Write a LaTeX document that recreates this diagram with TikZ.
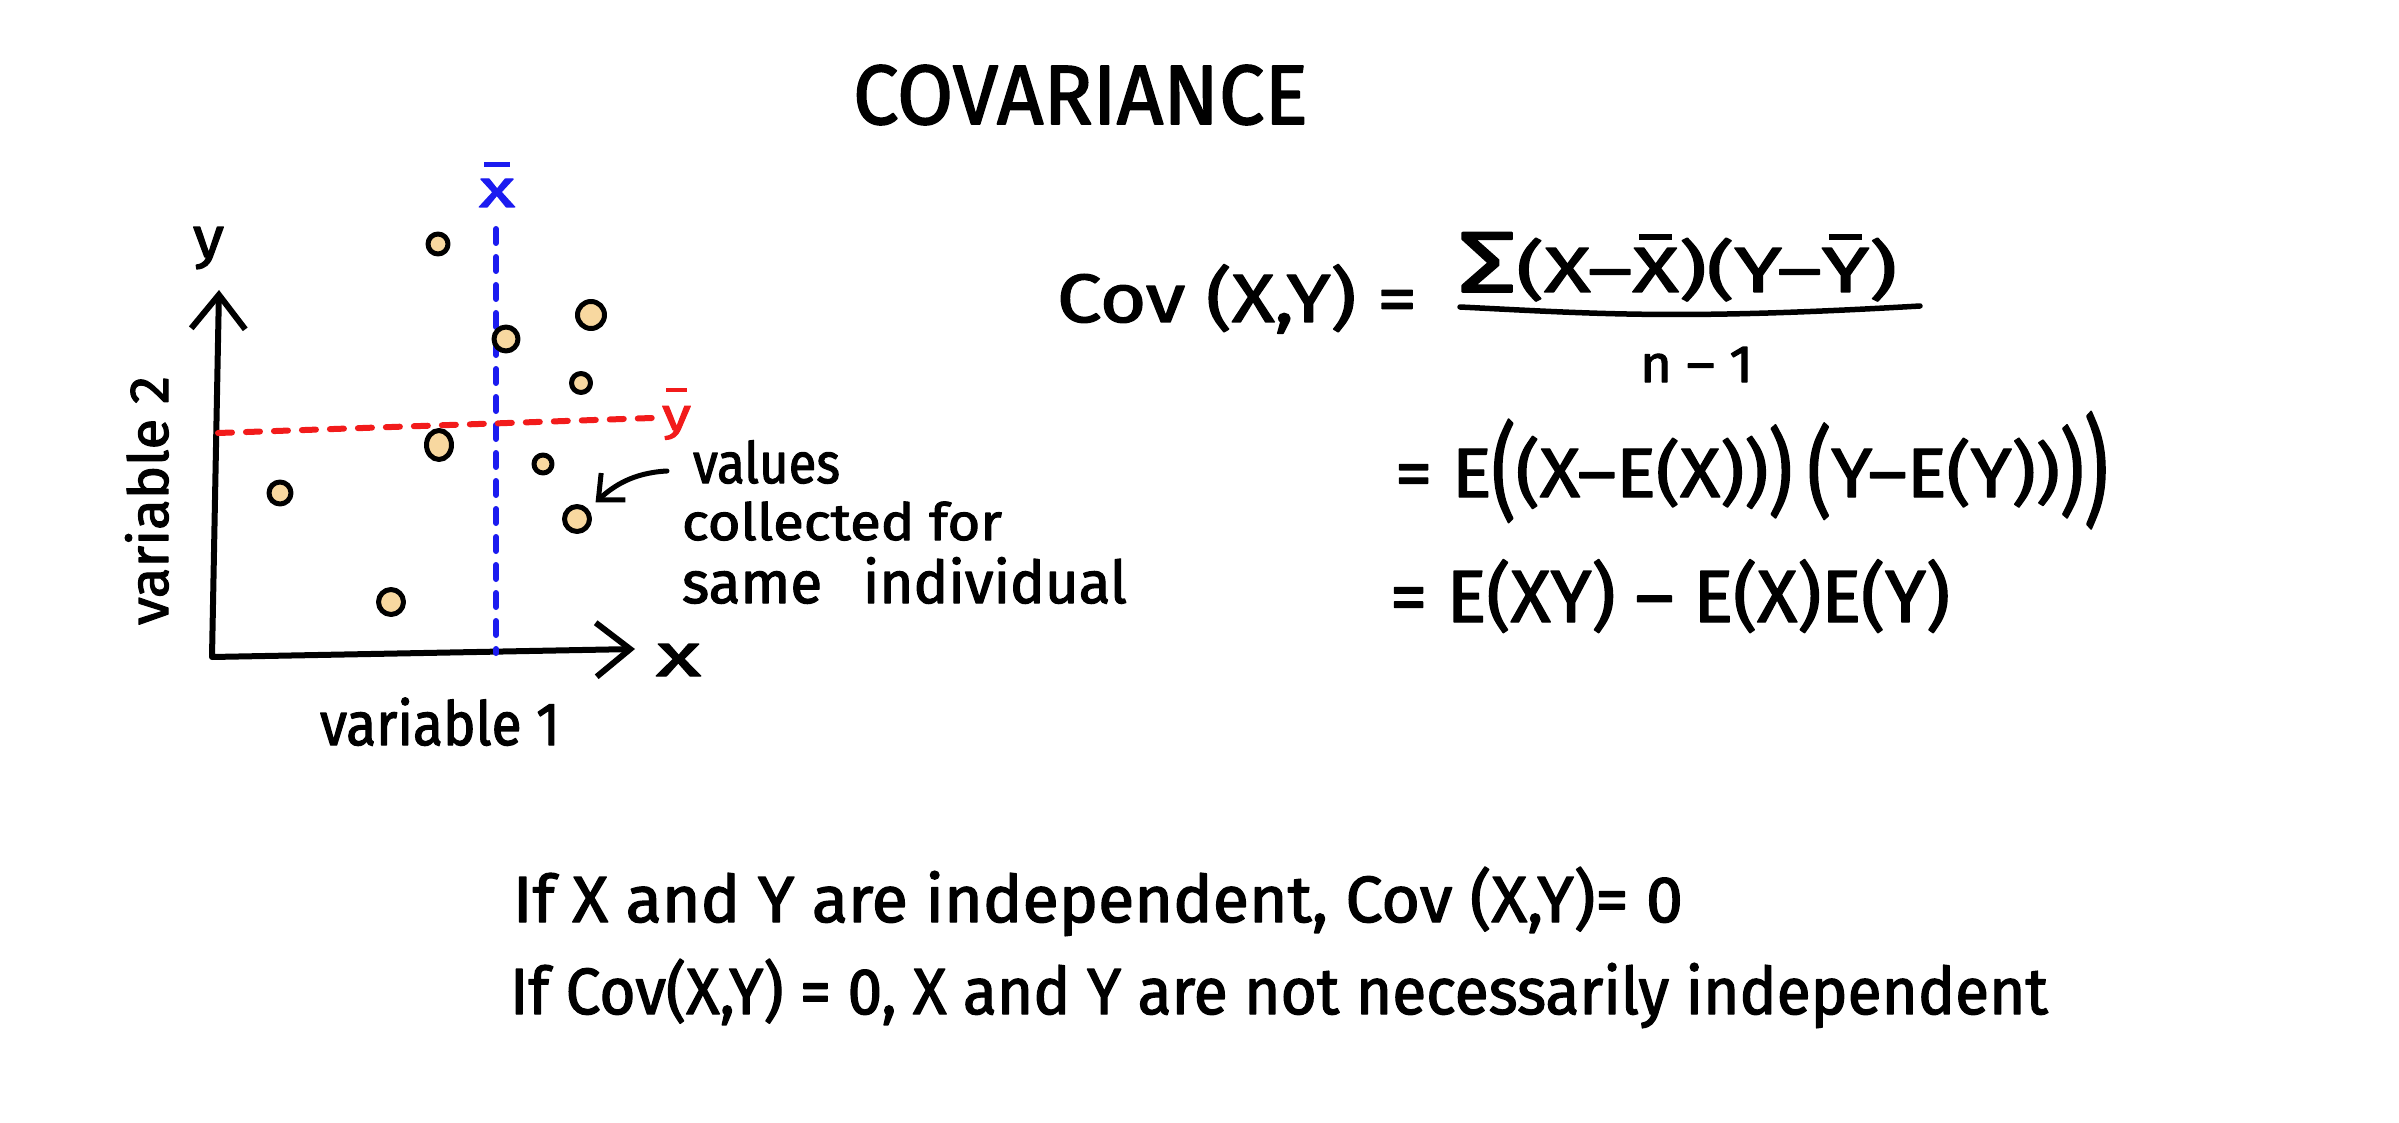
\documentclass[tikz,border=0pt]{standalone}
\usepackage{fontspec}
\setmainfont{Fira Sans}[FakeBold=2]
\usepackage{graphicx}
\usetikzlibrary{arrows.meta,shapes.geometric}
\definecolor{ptfill}{HTML}{F8D8A0}
\definecolor{hred}{HTML}{F21B1B}
\definecolor{hblue}{HTML}{1B1BF0}
\newsavebox\fitA
\newsavebox\fitB
\newsavebox\obbox
% \fitto[refchar]{width}{refheight}{text}
\newcommand\fitto[4][X]{%
  \sbox\fitA{#4}\sbox\fitB{#1}%
  \pgfmathsetmacro\fsx{#2/\the\wd\fitA}%
  \pgfmathsetmacro\fsy{#3/\the\ht\fitB}%
  \scalebox{\fsx}[\fsy]{\usebox\fitA}}
% letter with a bar over it
\newcommand\ob[2][0.12]{\sbox\obbox{#2}%
  \makebox[\wd\obbox][c]{\raisebox{\dimexpr\ht\obbox+#1em\relax}{\rule{0.7\wd\obbox}{0.095em}}}%
  \kern-\wd\obbox\usebox\obbox}
% vertically stretched bracket
\newcommand\bp[2]{\pgfmathsetmacro\bpr{-0.3*(#1-1)}\raisebox{\bpr em}{\scalebox{1}[#1]{#2}}}
\begin{document}
\begin{tikzpicture}[x=1pt,y=-1pt,line cap=round,line join=round,
  pt/.style={circle,draw=black,fill=ptfill,line width=5pt,inner sep=0pt},
  txt/.style={anchor=base west,inner sep=0pt,outer sep=0pt},
  axisline/.style={line width=6pt},
  meanline/.style={line width=6pt,dash pattern=on 14pt off 14pt}]
\useasboundingbox (0,0) rectangle (2399,1123);
\fill[white] (0,0) rectangle (2399,1123);
% title
\node[txt] (title) at (853,124) {\fitto{455}{58}{COVARIANCE}};
% axes
\draw[axisline,{Straight Barb[length=34pt,width=54pt]}-{Straight Barb[length=34pt,width=54pt]}]
  (219,290) -- (212,657) -- (635,649);
\node[txt] (ylab) at (193,257) {\fitto[x]{31}{30}{y}};
\node[txt] (xlab) at (656,676) {\fitto[x]{45}{32}{x}};
% means
\node[txt,text=hblue] (xbar) at (479,207) {\fitto[x]{36}{28}{\ob[0.22]{x}}};
\node[txt,text=hred] (ybar) at (662,430) {\fitto[x]{29}{24}{\ob[0.3]{y}}};
\draw[meanline,hblue] (496,229) -- (496,653);
\draw[meanline,hred] (218,433) -- (652,418);
% axis labels
\node[txt,rotate=90] (v2) at (168,625) {\fitto[x]{249}{29}{variable 2}};
\node[txt] (v1) at (320,745) {\fitto[x]{240}{32}{variable 1}};
% points
\node[pt,minimum size=20pt] (p1) at (438,244) {};
\node[pt,minimum size=27pt] (p2) at (591,315) {};
\node[pt,minimum size=24pt] (p3) at (506,339) {};
\node[pt,minimum size=19pt] (p4) at (581,383) {};
\node[pt,ellipse,minimum width=25pt,minimum height=29pt] (p5) at (439,445) {};
\node[pt,minimum size=18pt] (p6) at (543,464) {};
\node[pt,minimum size=22pt] (p7) at (280,493) {};
\node[pt,minimum size=25pt] (p8) at (577,519) {};
\node[pt,minimum size=25pt] (p9) at (391,602) {};
% annotation
\node[txt] (val1) at (693,483) {\fitto[x]{147}{30}{values}};
\node[txt] (val2) at (682,540) {\fitto[x]{320}{27}{collected for}};
\node[txt] (val3) at (682,603) {\fitto[x]{445}{31}{same\hspace{0.7em}individual}};
\coordinate (vtail) at (667,471);
\draw[line width=5pt,-{Straight Barb[length=20pt,width=36pt]},shorten >=10pt]
  (vtail) to[out=183,in=42] (p8);
% covariance formula
\node[txt] (cov) at (1057,322) {\fitto{360}{47}{Cov (X,Y) =}};
\node[txt] (num) at (1458,292) {\fitto{439}{44}{\scalebox{1.35}{Σ}(X–\ob{X})(Y–\ob{Y})}};
\draw[line width=5.5pt] (1460,307) .. controls (1600,314) and (1680,320) .. (1920,306);
\node[txt] (den) at (1640,382) {\fitto[1]{113}{35}{n – 1}};
\node[txt] (eq2) at (1395,497) {\fitto{713}{48}{= E\bp{1.5}{(}\bp{1.05}{(}X–E(X)\bp{1.05}{)}\bp{1.35}{)}\hspace{0.2em}\bp{1.4}{(}Y–E(Y)\bp{0.95}{)}\bp{1.35}{)}\bp{1.7}{)}}};
\node[txt] (eq3) at (1390,622) {\fitto{560}{51}{= E(XY) – E(X)E(Y)}};
% statements
\node[txt] (b1) at (513,922) {\fitto{1170}{45}{If X and Y are independent, Cov (X,Y)= 0}};
\node[txt] (b2) at (510,1014) {\fitto{1538}{45}{If Cov(X,Y) = 0, X and Y are not necessarily independent}};
\end{tikzpicture}
\end{document}
